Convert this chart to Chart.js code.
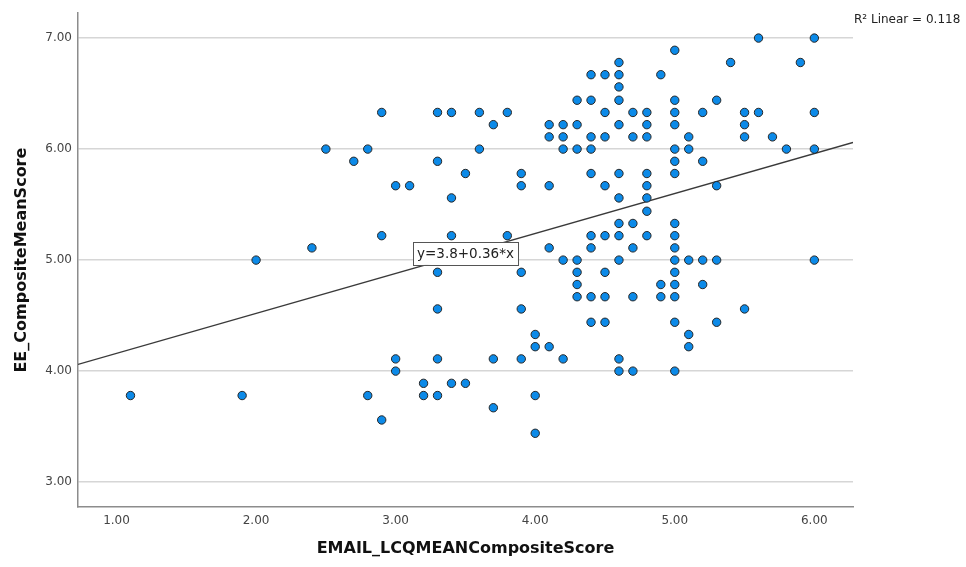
<!DOCTYPE html>
<html>
<head>
<meta charset="utf-8">
<title>EE vs EMAIL LCQ scatter</title>
<script src="https://cdn.jsdelivr.net/npm/chart.js@4.4.1/dist/chart.umd.min.js"></script>
<style>
  html, body { margin: 0; padding: 0; background: #fff; }
  #wrap { width: 966px; height: 567px; }
</style>
</head>
<body>
<div id="wrap"><canvas id="scatter" width="966" height="567"></canvas></div>
<script>
// EMAIL_LCQ score per column, and the EE scores observed at each one
const lcqScores = [1.1, 1.9, 2.0, 2.4, 2.5, 2.7, 2.8, 2.9, 3.0, 3.1, 3.2, 3.3, 3.4, 3.5, 3.6, 3.7, 3.8, 3.9,
  4.0, 4.1, 4.2, 4.3, 4.4, 4.5, 4.6, 4.7, 4.8, 4.9, 5.0, 5.1, 5.2, 5.3, 5.4, 5.5, 5.6, 5.7, 5.8, 5.9, 6.0];
const eeScores = [
  [3.78],
  [3.78],
  [5.00],
  [5.11],
  [6.00],
  [5.89],
  [6.00, 3.78],
  [6.33, 5.22, 3.56],
  [5.67, 4.11, 4.00],
  [5.67],
  [3.89, 3.78],
  [6.33, 5.89, 4.89, 4.56, 4.11, 3.78],
  [6.33, 5.56, 5.22, 3.89],
  [5.78, 3.89],
  [6.33, 6.00],
  [6.22, 4.11, 3.67],
  [6.33, 5.22],
  [5.78, 5.67, 4.89, 4.56, 4.11],
  [4.33, 4.22, 3.78, 3.44],
  [6.22, 6.11, 5.67, 5.11, 4.22],
  [6.22, 6.11, 6.00, 5.00, 4.11],
  [6.44, 6.22, 6.00, 5.00, 4.89, 4.78, 4.67],
  [6.67, 6.44, 6.11, 6.00, 5.78, 5.22, 5.11, 4.67, 4.44],
  [6.67, 6.33, 6.11, 5.67, 5.22, 4.89, 4.67, 4.44],
  [6.78, 6.67, 6.56, 6.44, 6.22, 5.78, 5.56, 5.33, 5.22, 5.00, 4.11, 4.00],
  [6.33, 6.11, 5.33, 5.11, 4.67, 4.00],
  [6.33, 6.22, 6.11, 5.78, 5.67, 5.56, 5.44, 5.22],
  [6.67, 4.78, 4.67],
  [6.89, 6.44, 6.33, 6.22, 6.00, 5.89, 5.78, 5.33, 5.22, 5.11, 5.00, 4.89, 4.78, 4.67, 4.44, 4.00],
  [6.11, 6.00, 5.00, 4.33, 4.22],
  [6.33, 5.89, 5.00, 4.78],
  [6.44, 5.67, 5.00, 4.44],
  [6.78],
  [6.33, 6.22, 6.11, 4.56],
  [7.00, 6.33],
  [6.11],
  [6.00],
  [6.78],
  [7.00, 6.33, 6.00, 5.00]
];

// fit line y = 3.8 + 0.36*x, R2 = 0.118
const fitIntercept = 3.8;
const fitSlope = 0.36;
const fitLabel = 'y=3.8+0.36*x';
const fitLabelAt = 3.5;
const rSquaredText = 'R\u00B2 Linear = 0.118';

const xTicks = [1, 2, 3, 4, 5, 6];
const yTicks = [3, 4, 5, 6, 7];
const xRange = [0.724, 6.277];
const yRange = [2.776, 7.224];

const points = [];
lcqScores.forEach((x, i) => {
  eeScores[i].forEach(y => points.push({ x: x, y: y }));
});

const fitLine = xRange.map(x => ({ x: x, y: fitIntercept + fitSlope * x }));

const tickFont = { family: 'DejaVu Sans', size: 12 };
const titleFont = { family: 'DejaVu Sans', size: 16, weight: 'bold' };

// boxed equation on the fit line, plus the R2 note top right
const annotations = {
  id: 'annotations',
  afterDatasetsDraw(chart) {
    const ctx = chart.ctx;
    const xs = chart.scales.x, ys = chart.scales.y;
    const px = xs.getPixelForValue(fitLabelAt);
    const py = ys.getPixelForValue(fitIntercept + fitSlope * fitLabelAt);
    ctx.save();
    ctx.font = '13.5px "DejaVu Sans"';
    const w = ctx.measureText(fitLabel).width + 8;
    const h = 23;
    ctx.fillStyle = '#fff';
    ctx.fillRect(px - w / 2, py - h / 2, w, h);
    ctx.strokeStyle = '#555';
    ctx.lineWidth = 1;
    ctx.strokeRect(Math.round(px - w / 2) + 0.5, Math.round(py - h / 2) + 0.5, Math.round(w), h);
    ctx.fillStyle = '#222';
    ctx.textAlign = 'center';
    ctx.textBaseline = 'middle';
    ctx.fillText(fitLabel, px, py + 1);

    ctx.font = '12px "DejaVu Sans"';
    ctx.textAlign = 'left';
    ctx.fillText(rSquaredText, chart.chartArea.right + 1, 20);
    ctx.restore();
  }
};

new Chart(document.getElementById('scatter'), {
  type: 'scatter',
  data: {
    datasets: [{
      label: 'EE_CompositeMeanScore',
      data: points,
      pointRadius: 4.2,
      pointHoverRadius: 4.2,
      pointBackgroundColor: 'rgb(12, 138, 232)',
      pointBorderColor: '#262626',
      pointBorderWidth: 1,
      order: 0
    }, {
      type: 'line',
      label: 'Linear fit',
      data: fitLine,
      borderColor: '#3a3a3a',
      borderWidth: 1.3,
      pointRadius: 0,
      fill: false,
      order: 1
    }]
  },
  options: {
    responsive: false,
    animation: false,
    events: [],
    layout: { padding: { top: 10, right: 113, left: 0, bottom: 0 } },
    plugins: {
      legend: { display: false },
      tooltip: { enabled: false }
    },
    scales: {
      x: {
        type: 'linear',
        min: xRange[0],
        max: xRange[1],
        afterBuildTicks: s => { s.ticks = xTicks.map(v => ({ value: v })); },
        afterFit: s => { s.height = 60; },
        grid: { display: false, drawTicks: false },
        border: { display: true, color: '#8c8c8c', width: 1.5 },
        ticks: {
          padding: 7,
          color: '#444',
          font: tickFont,
          callback: v => Number(v).toFixed(2)
        },
        title: {
          display: true,
          text: 'EMAIL_LCQMEANCompositeScore',
          color: '#111',
          font: titleFont,
          padding: { top: 0, bottom: 9 }
        }
      },
      y: {
        type: 'linear',
        min: yRange[0],
        max: yRange[1],
        afterBuildTicks: s => { s.ticks = yTicks.map(v => ({ value: v })); },
        afterFit: s => { s.width = 78; },
        grid: { color: '#d6d6d6', lineWidth: 1.5, drawTicks: false },
        border: { display: true, color: '#8c8c8c', width: 1.5 },
        ticks: {
          padding: 6,
          color: '#444',
          font: tickFont,
          callback: v => Number(v).toFixed(2)
        },
        title: {
          display: true,
          text: 'EE_CompositeMeanScore',
          color: '#111',
          font: titleFont,
          padding: { top: 12, bottom: 0 }
        }
      }
    }
  },
  plugins: [annotations]
});
</script>
</body>
</html>
